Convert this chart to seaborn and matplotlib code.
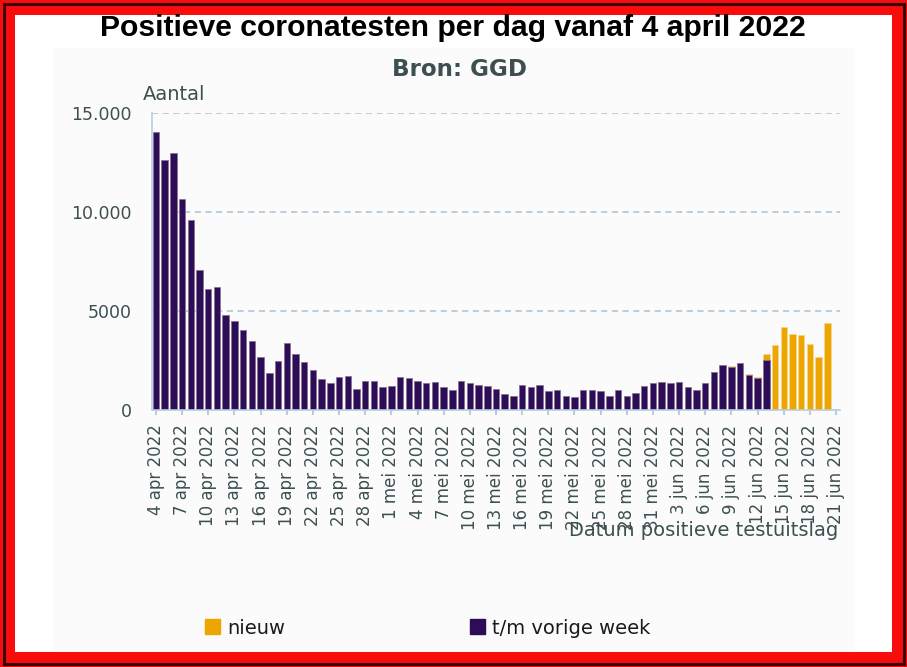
import matplotlib
matplotlib.use("Agg")
import matplotlib.pyplot as plt
from matplotlib.patches import Rectangle, Patch
import seaborn as sns
import pandas as pd
import numpy as np

# ---------------- data ----------------
dates = pd.date_range("2022-04-04", "2022-06-21", freq="D")

vorige_week = [
    14050, 12620, 12970, 10680, 9580, 7080, 6130, 6200, 4780, 4510,
    4050, 3510, 2690, 1880, 2480, 3380, 2840, 2420, 2030, 1550,
    1350, 1670, 1740, 1070, 1470, 1470, 1150, 1220, 1680, 1610,
    1480, 1360, 1420, 1150, 1020, 1480, 1360, 1270, 1220, 1070,
    800, 730, 1270, 1150, 1270, 950, 1020, 730, 660, 1020,
    1020, 950, 730, 1020, 730, 860, 1220, 1360, 1420, 1360,
    1420, 1150, 1020, 1360, 1900, 2290, 2170, 2370, 1750, 1610,
    2540, 0, 0, 0, 0, 0, 0, 0, 0,
]
nieuw = [0] * 66 + [70, 0, 70, 70, 280, 3300, 4200, 3860, 3800, 3320, 2700, 4410, 70]

tick_labels = [
    "4 apr 2022", "7 apr 2022", "10 apr 2022", "13 apr 2022", "16 apr 2022",
    "19 apr 2022", "22 apr 2022", "25 apr 2022", "28 apr 2022",
    "1 mei 2022", "4 mei 2022", "7 mei 2022", "10 mei 2022", "13 mei 2022",
    "16 mei 2022", "19 mei 2022", "22 mei 2022", "25 mei 2022", "28 mei 2022",
    "31 mei 2022",
    "3 jun 2022", "6 jun 2022", "9 jun 2022", "12 jun 2022", "15 jun 2022",
    "18 jun 2022", "21 jun 2022",
]
y_ticks = [0, 5000, 10000, 15000]
y_tick_labels = ["0", "5000", "10.000", "15.000"]

series_names = ["nieuw", "t/m vorige week"]
colors = {"nieuw": "#eda600", "t/m vorige week": "#2d0d57"}

df = pd.DataFrame({
    "datum": [d.strftime("%Y-%m-%d") for d in dates],
    "vorige": vorige_week,
    "nieuw": nieuw,
})
df["totaal"] = df["vorige"] + df["nieuw"]

# ---------------- figure ----------------
W, H = 907, 667
fig = plt.figure(figsize=(W / 100, H / 100), dpi=100)
fig.patch.set_facecolor("#f80c0c")

def px_rect(x0, y0, x1, y1, **kw):
    return Rectangle((x0 / W, 1 - y1 / H), (x1 - x0) / W, (y1 - y0) / H,
                     transform=fig.transFigure, figure=fig, **kw)

# dark shadow line in frame
fig.patches.append(px_rect(4, 4, 904, 664, facecolor="none",
                           edgecolor="#3a0505", linewidth=2.2, zorder=-3))
# white interior
fig.patches.append(px_rect(15, 15, 892, 652, facecolor="white",
                           edgecolor="none", zorder=-3))
# very light panel
fig.patches.append(px_rect(53, 48, 855, 652, facecolor="#fbfbfb",
                           edgecolor="none", zorder=-2))

ax_left, ax_right, ax_top, ax_bottom = 151.6, 840.4, 113, 410
ax = fig.add_axes([ax_left / W, 1 - ax_bottom / H,
                   (ax_right - ax_left) / W, (ax_bottom - ax_top) / H])
ax.set_zorder(2)
ax.set_facecolor("none")

order = list(df["datum"])
sns.barplot(data=df, x="datum", y="totaal", order=order, color=colors["nieuw"],
            saturation=1, width=0.74, edgecolor="#f6d68a", linewidth=0.5, ax=ax,
            zorder=3)
sns.barplot(data=df, x="datum", y="vorige", order=order,
            color=colors["t/m vorige week"], saturation=1, width=0.74,
            edgecolor="#8a78a8", linewidth=0.5, ax=ax, zorder=4)

ax.set_xlim(-0.5, len(order) - 0.5)
ax.set_ylim(0, 15000)

grid_c = "#a9bfd2"
for yv in y_ticks[1:]:
    ax.axhline(yv, color=grid_c, linestyle=(0, (4, 3)), linewidth=1.1, zorder=1)

for s in ["top", "right"]:
    ax.spines[s].set_visible(False)
for s in ["left", "bottom"]:
    ax.spines[s].set_color("#b9cde0")
    ax.spines[s].set_linewidth(1.2)
    ax.spines[s].set_zorder(5)

txt_c = "#3d4f4f"
ax.set_yticks(y_ticks)
ax.set_yticklabels(y_tick_labels, fontsize=12.5, color=txt_c, family="DejaVu Sans")
ax.tick_params(axis="y", length=0, pad=14.5)

ax.set_xticks(range(0, len(order), 3))
ax.set_xticklabels(tick_labels, rotation=90, fontsize=12, color=txt_c,
                   family="DejaVu Sans")
ax.tick_params(axis="x", length=3.5, width=1.5, color="#b9cde0", pad=7)
ax.set_xlabel("")
ax.set_ylabel("")

# ---------------- texts ----------------
fig.text(453 / W, 1 - 28 / H, "Positieve coronatesten per dag vanaf 4 april 2022",
         ha="center", va="center", fontsize=21.7, fontweight="bold",
         family="Liberation Sans", color="black")
fig.text(460 / W, 1 - 70 / H, "Bron: GGD", ha="center", va="center",
         fontsize=16.6, fontweight="bold", family="DejaVu Sans", color=txt_c)
fig.text(143 / W, 1 - 95 / H, "Aantal", ha="left", va="center",
         fontsize=14, family="DejaVu Sans", color=txt_c)
fig.text(838 / W, 1 - 531 / H, "Datum positieve testuitslag", ha="right",
         va="center", fontsize=14, family="DejaVu Sans", color=txt_c, zorder=6)

# ---------------- legend ----------------
handles = [Patch(facecolor=colors[n], edgecolor=colors[n]) for n in series_names]
fig.legend(handles, series_names, loc="center left",
           bbox_to_anchor=(205 / W, 1 - 628 / H), bbox_transform=fig.transFigure,
           ncol=2, frameon=False, fontsize=14, handlelength=0.78,
           handleheight=0.78, handletextpad=0.35, columnspacing=9.5,
           borderpad=0, borderaxespad=0, labelcolor="#1a1a1a")

fig.savefig("out.png", dpi=100, facecolor=fig.get_facecolor())
